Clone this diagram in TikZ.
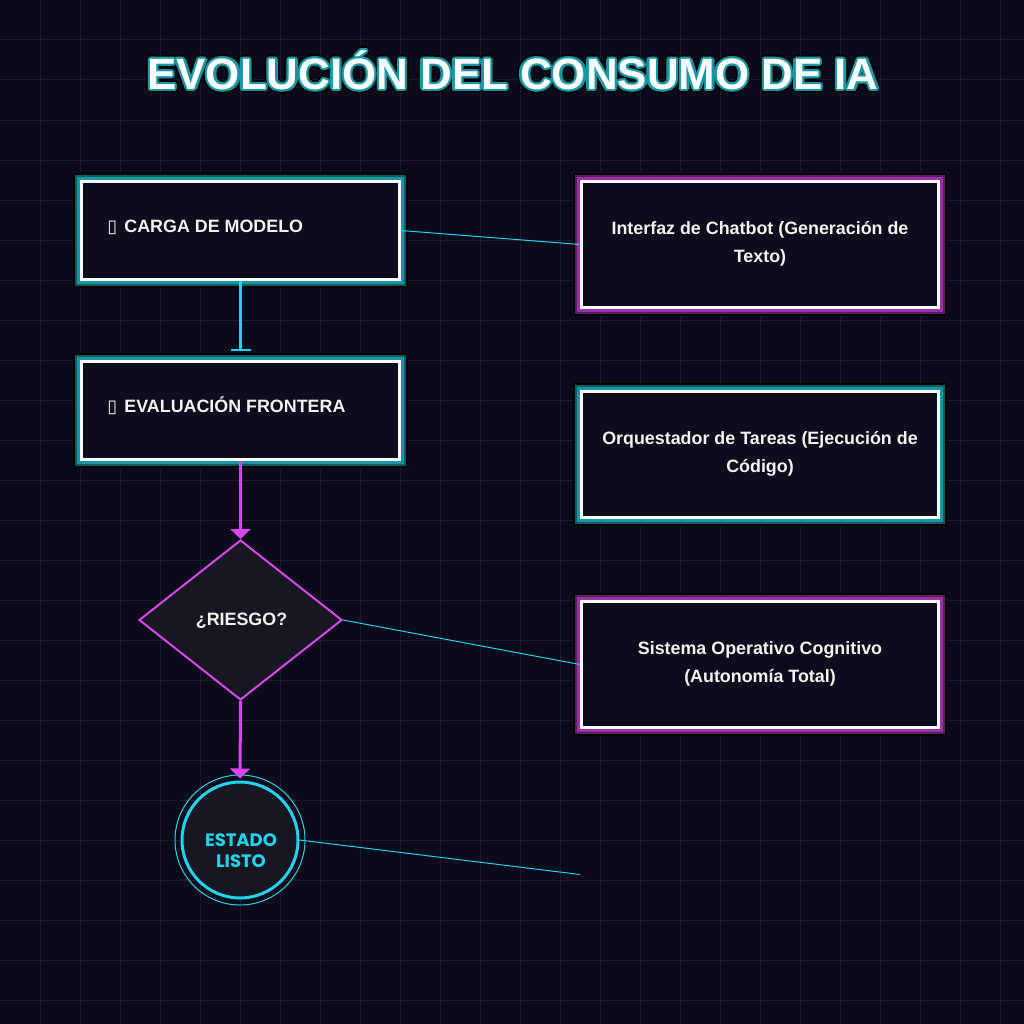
\documentclass[tikz,border=0pt]{standalone}
\usepackage{fontspec}
\setmainfont{Liberation Sans}
\newfontfamily\glifofont{DejaVu Sans}
\newfontfamily\redondafont{Poppins}
\usetikzlibrary{shapes.geometric,arrows.meta}
\definecolor{fondo}{HTML}{0A0A1A}
\definecolor{rejilla}{HTML}{1B1A2E}
\definecolor{cian}{HTML}{22D3EE}
\definecolor{neonmag}{HTML}{D946EF}
\definecolor{tealclaro}{HTML}{1797A6}
\definecolor{tealoscuro}{HTML}{0E5C63}
\definecolor{violclaro}{HTML}{9B30A8}
\definecolor{violoscuro}{HTML}{5A1E66}
\definecolor{relleno}{HTML}{0C0C1D}
\definecolor{rombofill}{HTML}{171722}
\definecolor{blanco}{HTML}{F4F4F4}
\newcommand{\tofu}{{\glifofont ▯}\hspace{5.5pt}}
\newcommand{\textotitulo}{EVOLUCIÓN DEL CONSUMO DE IA}
\tikzset{
  caja/.style={rectangle, draw=white, line width=2.25pt, fill=relleno, inner sep=0pt},
  cajaizq/.style={caja, minimum width=238.5pt, minimum height=73.5pt},
  cajader/.style={caja, minimum width=267.75pt, minimum height=94.5pt},
  brilloteal/.style={preaction={draw=black, line width=12.4pt},
    preaction={draw=tealoscuro, line width=9.4pt},
    preaction={draw=tealclaro, line width=6.4pt}},
  brillovio/.style={preaction={draw=black, line width=12.4pt},
    preaction={draw=violoscuro, line width=9.4pt},
    preaction={draw=violclaro, line width=6.4pt}},
  etiqueta/.style={text=blanco, inner sep=0pt, font=\bfseries\fontsize{13.4}{21}\selectfont},
  titulo/.style={inner sep=0pt, anchor=base, font=\bfseries\fontsize{32.9}{36}\selectfont},
  enlace/.style={cian, line width=0.75pt},
  flechacian/.style={cian, line width=2.25pt, -{Bar[width=15pt, line width=1.5pt]}},
  flechamag/.style={neonmag, line width=2.25pt, -{Triangle[width=15pt, length=7.5pt]}}
}
\begin{document}
\begin{tikzpicture}[x=0.75pt, y=-0.75pt]
  % fondo y rejilla
  \fill[fondo] (0,0) rectangle (1024,1024);
  \useasboundingbox (0,0) rectangle (1024,1024);
  \foreach \i in {40,80,...,1000} {
    \draw[rejilla, line width=0.75pt] (\i,0) -- (\i,1024);
    \draw[rejilla, line width=0.75pt] (0,\i) -- (1024,\i);
  }
  % titulo con halo
  \foreach \a in {0,30,...,330}
    \node[titulo, text=black, shift={(\a:3pt)}] at (513,89.5) {\textotitulo};
  \foreach \a in {0,30,...,330}
    \node[titulo, text=tealclaro, shift={(\a:1.8pt)}] at (513,89.5) {\textotitulo};
  \foreach \a in {0,60,...,300}
    \node[titulo, text=tealclaro, shift={(\a:0.9pt)}] at (513,89.5) {\textotitulo};
  \node[titulo, text=white] (titulo) at (513,89.5) {\textotitulo};
  % columna izquierda
  \node[cajaizq, brilloteal] (carga) at (240.5,230.5) {};
  \node[cajaizq, brilloteal] (evaluacion) at (240.5,410.5) {};
  \node[etiqueta, anchor=base west] (cargaT) at (107,232) {\tofu CARGA DE MODELO};
  \node[etiqueta, anchor=base west] (evaluacionT) at (107,412) {\tofu EVALUACIÓN FRONTERA};
  \node[diamond, draw=neonmag, line width=1.5pt, fill=rombofill, minimum width=152.25pt,
    minimum height=120pt, aspect=1.27, inner sep=0pt] (riesgo) at (240.5,620) {};
  \node[etiqueta] (riesgoT) at (241.5,621) {¿RIESGO?};
  \node[circle, draw=cian, line width=2.25pt, fill=rombofill, minimum size=87pt, inner sep=0pt] (listo) at (240,840) {};
  \draw[cian, line width=0.75pt] (listo.center) circle[radius=48.75pt];
  \node[text=cian, align=center, inner sep=0pt, font=\redondafont\bfseries\fontsize{13.5}{15.75}\selectfont] (listoT) at (241,851) {ESTADO\\LISTO};
  % columna derecha
  \node[cajader, brillovio] (interfaz) at (760,244.5) {};
  \node[cajader, brilloteal] (orquestador) at (760,454.5) {};
  \node[cajader, brillovio] (sistema) at (760,664.5) {};
  \node[etiqueta, align=center] (interfazT) at (760,243.5) {Interfaz de Chatbot (Generación de\\Texto)};
  \node[etiqueta, align=center] (orquestadorT) at (760,453.5) {Orquestador de Tareas (Ejecución de\\Código)};
  \node[etiqueta, align=center] (sistemaT) at (760,663.5) {Sistema Operativo Cognitivo\\(Autonomía Total)};
  \coordinate (vacio) at (580,874.5);
  % conectores
  \draw[flechacian, shorten >=6.75pt] (carga.south) -- (evaluacion.north);
  \draw[flechamag] (evaluacion.south) -- (riesgo.north);
  \draw[flechamag, shorten >=1.5pt] (riesgo.south) -- (listo.north);
  \draw[enlace] (carga.east) -- (interfaz.west);
  \draw[enlace] (riesgo.east) -- (sistema.west);
  \draw[enlace] (listo.east) -- (vacio);
\end{tikzpicture}
\end{document}
